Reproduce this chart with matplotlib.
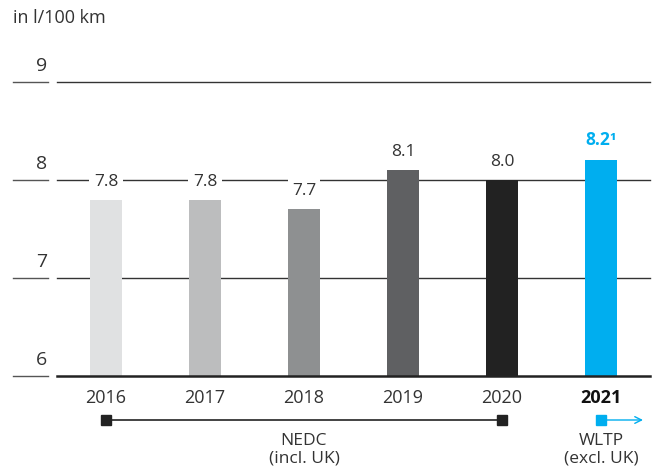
import matplotlib
matplotlib.use("Agg")
import matplotlib.pyplot as plt

years = ["2016", "2017", "2018", "2019", "2020", "2021"]
values = [7.8, 7.8, 7.7, 8.1, 8.0, 8.2]
value_labels = ["7.8", "7.8", "7.7", "8.1", "8.0", "8.2\u00b9"]
colors = ["#e0e1e2", "#bcbdbe", "#8e9091", "#5f6062", "#222222", "#00aeef"]
yticks = [6, 7, 8, 9]
unit_label = "in l/100 km"
nedc_label = "NEDC\n(incl. UK)"
wltp_label = "WLTP\n(excl. UK)"

plt.rcParams['font.family'] = ['Open Sans', 'DejaVu Sans']
TXT = "#333333"
BLUE = "#00aeef"

W, H = 653, 471
fig = plt.figure(figsize=(W / 100, H / 100), dpi=100)
ax = fig.add_axes([0, 0, 1, 1])
ax.set_axis_off()

# pixel mapping: bar i centre at 106 + 99*i ; y=6 at 376, 98 px per unit
x0, dx = 106, 99
y0, dy = 376, 98
ax.set_xlim(-x0 / dx, (W - x0) / dx)
ax.set_ylim(6 - (H - y0) / dy, 6 + y0 / dy)

# gridlines
for t in yticks:
    lw = 1.8 if t == 6 else 1.0
    col = "#222222" if t == 6 else "#333333"
    ax.axhline(t, xmin=13 / W, xmax=48 / W, color="#555555", lw=1.0, zorder=1)
    ax.axhline(t, xmin=57 / W, xmax=650 / W, color=col, lw=lw, zorder=1 if t != 6 else 4)
    ax.text(47 / W, t + 16 / dy, str(t), transform=ax.get_yaxis_transform(),
            ha="right", va="center", fontsize=14, color=TXT)

ax.text(13 / W, 1 - 18 / H, unit_label, transform=ax.transAxes, ha="left",
        va="center", fontsize=13, color=TXT)

xs = list(range(len(years)))
ax.bar(xs, [v - 6 for v in values], bottom=6, width=32 / dx, color=colors,
       zorder=3)

for i, (v, lab) in enumerate(zip(values, value_labels)):
    last = i == len(years) - 1
    ax.text(i, v + (20 if last else 18) / dy, lab, ha="center", va="center",
            fontsize=12.5, color=BLUE if last else TXT,
            fontweight="bold" if last else "normal",
            bbox=dict(boxstyle="square,pad=0.25", fc="white", ec="none"),
            zorder=5)
    ax.text(i, 6 - 22 / dy, years[i], ha="center", va="center", fontsize=13,
            color="#111111" if last else TXT,
            fontweight="bold" if last else "normal")

# NEDC bracket
yb = 6 - 44 / dy
ax.plot([0, 4], [yb, yb], color="#222222", lw=1.2, zorder=3)
ax.plot([0, 4], [yb, yb], ls="none", marker="s", ms=6.5, color="#222222", zorder=4)
ax.text(2, 6 - 74 / dy, nedc_label, ha="center", va="center", fontsize=12.5,
        color=TXT, linespacing=1.1)

# WLTP arrow
ax.annotate("", xy=(5 + 42 / dx, yb), xytext=(5, yb),
            arrowprops=dict(arrowstyle="->", color=BLUE, lw=1.0,
                            mutation_scale=12, shrinkA=0, shrinkB=0))
ax.plot([5], [yb], ls="none", marker="s", ms=6.5, color=BLUE, zorder=4)
ax.text(5, 6 - 74 / dy, wltp_label, ha="center", va="center", fontsize=12.5,
        color=TXT, linespacing=1.1)

fig.savefig("out.png", dpi=100)
